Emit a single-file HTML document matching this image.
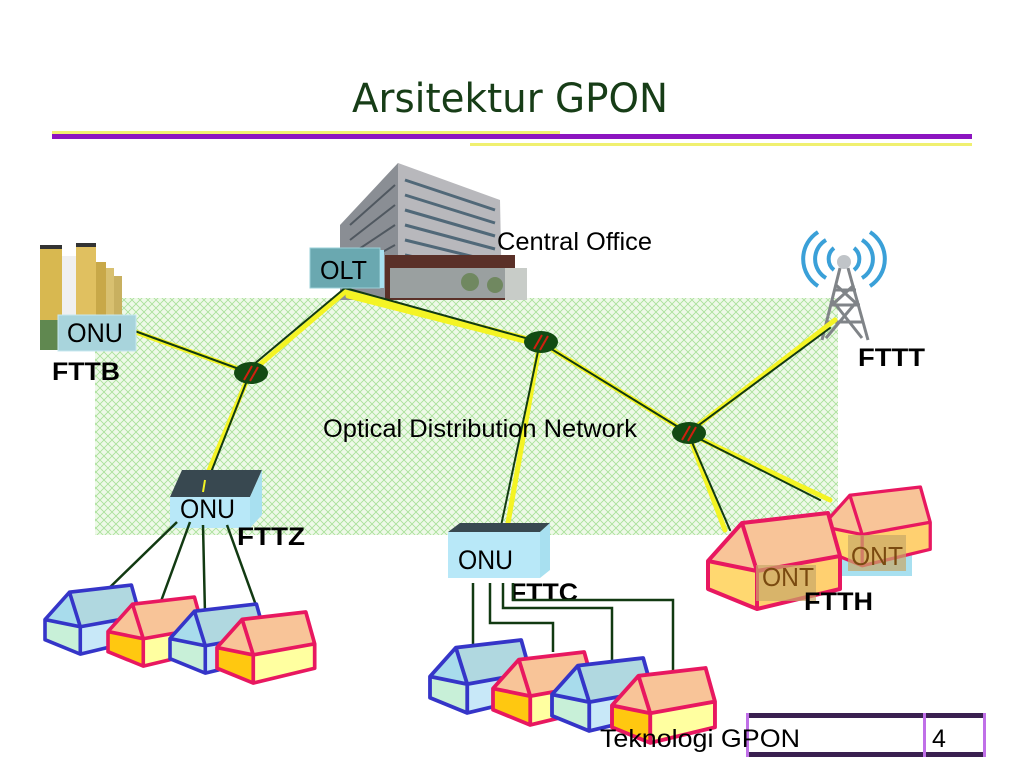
<!DOCTYPE html>
<html><head><meta charset="utf-8"><style>
html,body{margin:0;padding:0;background:#fff;width:1024px;height:768px;overflow:hidden}
svg text{font-family:"Liberation Sans",sans-serif}
</style></head><body>
<svg width="1024" height="768" viewBox="0 0 1024 768" xmlns="http://www.w3.org/2000/svg">
<defs>
<pattern id="hatch" width="8" height="8" patternUnits="userSpaceOnUse">
<rect width="8" height="8" fill="#eef9e8"/>
<path d="M0 8 L8 0 M0 0 L8 8" stroke="#a8e098" stroke-width="0.8"/>
</pattern>
<g id="hb">
<polygon points="0,48 34,10 49,58 49,96 0,76" fill="#c8f0d8"/>
<polygon points="0,48 34,10 49,58" fill="#a8dcec"/>
<polygon points="34,10 120,0 132,43 49,58" fill="#b0d8e0"/>
<polygon points="49,58 132,43 132,76 49,96" fill="#c8e8f8"/>
<path d="M0,48 L34,10 L120,0 L132,43 L132,76 L49,96 L0,76 Z M34,10 L49,58 L132,43 M0,48 L49,58 L49,96" fill="none" stroke="#3535c8" stroke-width="5" stroke-linejoin="round"/>
</g>
<g id="hp">
<polygon points="0,48 34,10 49,58 49,96 0,76" fill="#ffc810"/>
<polygon points="0,48 34,10 49,58" fill="#f8c498"/>
<polygon points="34,10 120,0 132,43 49,58" fill="#f8c498"/>
<polygon points="49,58 132,43 132,76 49,96" style="fill:#ffffa0"/>
<path d="M0,48 L34,10 L120,0 L132,43 L132,76 L49,96 L0,76 Z M34,10 L49,58 L132,43 M0,48 L49,58 L49,96" fill="none" stroke="#e81860" stroke-width="5" stroke-linejoin="round"/>
</g>
<g id="hf">
<polygon points="0,48 34,10 49,58 49,96 0,76" fill="#ffd870"/>
<polygon points="0,48 34,10 49,58" fill="#f8c498"/>
<polygon points="34,10 120,0 132,43 49,58" fill="#f8c498"/>
<polygon points="49,58 132,43 132,76 49,96" fill="#ffd070"/>
<path d="M0,48 L34,10 L120,0 L132,43 L132,76 L49,96 L0,76 Z M34,10 L49,58 L132,43 M0,48 L49,58 L49,96" fill="none" stroke="#e81860" stroke-width="4" stroke-linejoin="round"/>
</g>
</defs>

<!-- title -->
<text x="352" y="112" textLength="316" lengthAdjust="spacingAndGlyphs" font-size="40" fill="#173d17" style="font-family:'DejaVu Sans Condensed','Liberation Sans',sans-serif">Arsitektur GPON</text>
<rect x="52" y="131" width="508" height="3" fill="#f0f070"/>
<rect x="52" y="134" width="920" height="5" fill="#8c14c0"/>
<rect x="470" y="143" width="502" height="3" fill="#f0f070"/>

<!-- ODN area -->
<rect x="95" y="298" width="743" height="237" fill="url(#hatch)"/>

<!-- apartments -->
<g>
<rect x="40" y="248" width="22" height="100" fill="#d8b850"/>
<rect x="62" y="256" width="14" height="92" fill="#f0f0f0"/>
<rect x="76" y="246" width="20" height="102" fill="#e0c060"/>
<rect x="96" y="262" width="10" height="86" fill="#c8a848"/>
<rect x="106" y="268" width="8" height="80" fill="#d8c070"/>
<rect x="114" y="276" width="8" height="72" fill="#c8b060"/>
<rect x="40" y="245" width="22" height="4" fill="#333"/>
<rect x="76" y="243" width="20" height="4" fill="#333"/>
<rect x="40" y="320" width="30" height="30" fill="#608850"/>
</g>

<!-- central office building -->
<g>
<polygon points="340,225 398,163 410,170 410,300 340,300" fill="#8a8e94"/>
<polygon points="398,163 500,200 502,300 398,300" fill="#b8b8bc"/>
<g stroke="#506878" stroke-width="3">
<path d="M405,180 L495,210 M405,195 L495,223 M405,210 L495,236 M405,225 L495,249 M405,240 L495,262 M405,255 L495,274"/>
</g>
<g stroke="#505860" stroke-width="2">
<path d="M350,225 L395,185 M350,240 L395,205 M350,255 L395,225 M350,270 L395,245"/>
</g>
<rect x="385" y="255" width="130" height="45" fill="#5a3028"/>
<rect x="390" y="268" width="120" height="30" fill="#9aa0a0"/>
<rect x="505" y="268" width="22" height="32" fill="#c8ccc8"/>
<circle cx="470" cy="282" r="9" fill="#708860"/>
<circle cx="495" cy="285" r="8" fill="#708860"/>
</g>
<text x="497" y="250" font-size="25" textLength="155" lengthAdjust="spacingAndGlyphs" fill="#000">Central Office</text>

<!-- tower -->
<g fill="none" stroke="#3aa0d8" stroke-width="4">
<path d="M834,248 A14,14 0 0 0 834,270"/>
<path d="M854,248 A14,14 0 0 1 854,270"/>
<path d="M826,240 A22,22 0 0 0 826,278"/>
<path d="M862,240 A22,22 0 0 1 862,278"/>
<path d="M818,232 A32,32 0 0 0 818,286"/>
<path d="M870,232 A32,32 0 0 1 870,286"/>
</g>
<g stroke="#808488" stroke-width="3" fill="none">
<path d="M840,268 L822,340 M848,268 L868,340 M834,290 L856,290 M830,305 L860,305 M826,322 L864,322 M832,300 L862,338 M858,300 L826,338 M836,285 L858,305 M854,285 L832,305"/>
</g>
<circle cx="844" cy="262" r="7" fill="#c0c4c8"/>

<!-- fiber lines -->
<g fill="none" stroke-linecap="round">
<g stroke="#f4f424" stroke-width="5">
<path d="M345,292 L250,373 L130,330"/>
<path d="M250,373 L205,480"/>
<path d="M345,292 L540,342 L688,433 L835,320"/>
<path d="M348,296 L540,345"/>
<path d="M540,342 L505,540"/>
<path d="M688,433 L725,530 M688,433 L830,500"/>
</g>
<g stroke="#123a12" stroke-width="2">
<path d="M345,288 L247,370 M250,373 L132,330"/>
<path d="M250,373 L208,480"/>
<path d="M345,288 L540,342 L688,433 L830,328"/>
<path d="M540,342 L498,540"/>
<path d="M688,433 L730,530 M688,433 L820,500"/>
</g>
</g>

<!-- splitters -->
<g>
<ellipse cx="251" cy="373" rx="17" ry="11" fill="#124a12"/>
<ellipse cx="541" cy="342" rx="17" ry="11" fill="#124a12"/>
<ellipse cx="689" cy="433" rx="17" ry="11" fill="#124a12"/>
<path d="M244,380 L252,366 M250,381 L258,367 M534,349 L542,335 M540,350 L548,336 M682,440 L690,426 M688,441 L696,427" stroke="#d02010" stroke-width="2"/>
</g>

<!-- OLT -->
<rect x="310" y="248" width="70" height="40" fill="#6aa8b0" stroke="#9ad0d8" stroke-width="1"/>
<rect x="380" y="250" width="4" height="38" fill="#a8e0f0"/>
<text x="320" y="279" font-size="26" textLength="47" lengthAdjust="spacingAndGlyphs" fill="#000">OLT</text>

<!-- ONU FTTB -->
<rect x="58" y="315" width="78" height="36" fill="#a8d4dc" stroke="#c8e8f0"/>
<text x="67" y="342" font-size="27" textLength="56" lengthAdjust="spacingAndGlyphs" fill="#000">ONU</text>
<text x="52" y="380" font-size="25" font-weight="bold" textLength="68" lengthAdjust="spacingAndGlyphs" fill="#000">FTTB</text>

<!-- ONU FTTZ -->
<polygon points="170,497 182,470 262,470 250,497" fill="#384850"/>
<polygon points="250,497 262,470 262,515 250,528" fill="#a8e0f0"/>
<rect x="170" y="497" width="80" height="31" fill="#b8e8f8"/>
<text x="180" y="518" font-size="27" textLength="55" lengthAdjust="spacingAndGlyphs" fill="#000">ONU</text>
<text x="237" y="545" font-size="25" font-weight="bold" textLength="68" lengthAdjust="spacingAndGlyphs" fill="#000">FTTZ</text>
<path d="M205,480 L203,492" stroke="#f4f424" stroke-width="2"/>

<!-- FTTZ drops -->
<g stroke="#123a12" stroke-width="2.5" fill="none">
<path d="M177,522 L103,594 M190,522 L160,604 M203,525 L205,614 M227,525 L262,622"/>
</g>
<use href="#hb" transform="translate(45,585) scale(0.72)"/>
<use href="#hp" transform="translate(108,597) scale(0.72)"/>
<use href="#hb" transform="translate(170,604) scale(0.72)"/>
<use href="#hp" transform="translate(217,612) scale(0.74)"/>

<!-- ONU FTTC -->
<polygon points="448,532 460,523 550,523 540,532" fill="#384850"/>
<polygon points="540,532 550,523 550,570 540,578" fill="#a8e0f0"/>
<rect x="448" y="532" width="92" height="46" fill="#b8e8f8"/>
<text x="458" y="569" font-size="27" textLength="55" lengthAdjust="spacingAndGlyphs" fill="#000">ONU</text>
<text x="510" y="601" font-size="25" font-weight="bold" textLength="68" lengthAdjust="spacingAndGlyphs" fill="#000">FTTC</text>

<g stroke="#123a12" stroke-width="2.5" fill="none">
<path d="M473,583 L473,645 M490,583 L490,623 L553,623 L553,652 M503,583 L503,608 L612,608 L612,662 M513,583 L513,600 L673,600 L673,675"/>
</g>
<use href="#hb" transform="translate(430,640) scale(0.76)"/>
<use href="#hp" transform="translate(493,652) scale(0.76)"/>
<use href="#hb" transform="translate(552,658) scale(0.76)"/>
<use href="#hp" transform="translate(612,668) scale(0.78)"/>

<!-- FTTH houses -->
<rect x="840" y="548" width="72" height="28" fill="#a8e0f0"/>
<use href="#hf" transform="translate(822,487) scale(0.82)"/>
<rect x="848" y="535" width="58" height="36" fill="#c8a868" opacity="0.7"/>
<text x="851" y="565" font-size="26" textLength="52" lengthAdjust="spacingAndGlyphs" fill="#7a4a10">ONT</text>
<use href="#hf" transform="translate(708,513)"/>
<rect x="756" y="565" width="60" height="36" fill="#c8a868" opacity="0.7"/>
<text x="762" y="586" font-size="26" textLength="52" lengthAdjust="spacingAndGlyphs" fill="#7a4a10">ONT</text>
<text x="804" y="610" font-size="25" font-weight="bold" textLength="69" lengthAdjust="spacingAndGlyphs" fill="#000">FTTH</text>
<text x="858" y="366" font-size="25" font-weight="bold" textLength="67" lengthAdjust="spacingAndGlyphs" fill="#000">FTTT</text>

<text x="323" y="437" font-size="25" textLength="314" lengthAdjust="spacingAndGlyphs" fill="#000">Optical Distribution Network</text>

<!-- footer -->
<rect x="746" y="713" width="240" height="5" fill="#3a2050"/>
<rect x="746" y="752" width="240" height="5" fill="#3a2050"/>
<rect x="746" y="713" width="3" height="44" fill="#c070e8"/>
<rect x="923" y="713" width="3" height="44" fill="#c070e8"/>
<rect x="983" y="713" width="3" height="44" fill="#c070e8"/>
<text x="600" y="747" font-size="25" textLength="200" lengthAdjust="spacingAndGlyphs" fill="#000">Teknologi  GPON</text>
<text x="932" y="747" font-size="25" fill="#000">4</text>
</svg>
</body></html>
